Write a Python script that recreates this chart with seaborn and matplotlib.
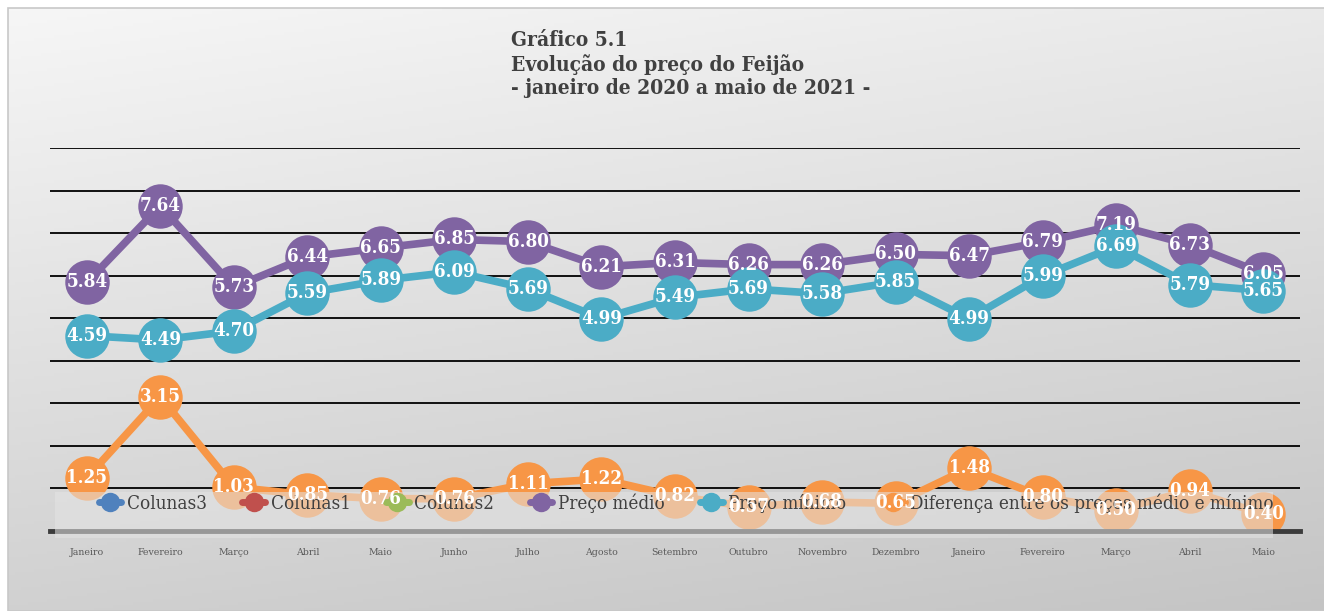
import numpy as np
import pandas as pd
import seaborn as sns
import matplotlib.pyplot as plt
from matplotlib.lines import Line2D
from matplotlib.patches import Rectangle

months = ["Janeiro", "Fevereiro", "Março", "Abril", "Maio", "Junho", "Julho", "Agosto",
          "Setembro", "Outubro", "Novembro", "Dezembro", "Janeiro", "Fevereiro", "Março",
          "Abril", "Maio"]
preco_medio = [5.84, 7.64, 5.73, 6.44, 6.65, 6.85, 6.80, 6.21, 6.31, 6.26, 6.26, 6.50,
               6.47, 6.79, 7.19, 6.73, 6.05]
preco_minimo = [4.59, 4.49, 4.70, 5.59, 5.89, 6.09, 5.69, 4.99, 5.49, 5.69, 5.58, 5.85,
                4.99, 5.99, 6.69, 5.79, 5.65]
diferenca = [1.25, 3.15, 1.03, 0.85, 0.76, 0.76, 1.11, 1.22, 0.82, 0.57, 0.68, 0.65,
             1.48, 0.80, 0.50, 0.94, 0.40]

series_names = ["Preço médio", "Preço mínimo", "Diferença entre os preços médio e mínimo"]
legend_names = ["Colunas3", "Colunas1", "Colunas2"] + series_names
colors = {"Colunas3": "#4F81BD", "Colunas1": "#C0504D", "Colunas2": "#9BBB59",
          "Preço médio": "#8064A2", "Preço mínimo": "#4BACC6",
          "Diferença entre os preços médio e mínimo": "#F79646"}

df = pd.DataFrame({"idx": np.arange(len(months)),
                   series_names[0]: preco_medio,
                   series_names[1]: preco_minimo,
                   series_names[2]: diferenca})
long = df.melt(id_vars="idx", var_name="serie", value_name="valor")

sns.set_theme(style="white")
plt.rcParams["font.family"] = ["DejaVu Serif", "DejaVu Sans"]
plt.rcParams["font.stretch"] = "condensed"

W, H = 1324, 611
fig = plt.figure(figsize=(W / 100, H / 100), dpi=100)

# background gradient panel
bg = fig.add_axes([0, 0, 1, 1], zorder=-5)
bg.set_xlim(0, 1)
bg.set_ylim(0, 1)
bg.axis("off")
yy, xx = np.mgrid[0:1:200j, 0:1:200j]
t = 0.75 * yy + 0.25 * xx
top = np.array([0.965, 0.965, 0.965])
bot = np.array([0.77, 0.77, 0.77])
img = top[None, None, :] * (1 - t[..., None]) + bot[None, None, :] * t[..., None]
bg.imshow(img, extent=[8 / W, 1, 0, 1 - 8 / H], aspect="auto", origin="upper")
bg.add_patch(Rectangle((8 / W, 0), 1, 1 - 8 / H, fill=False, edgecolor="#c8c8c8", lw=1.2))

left, right = 50 / W, 1300 / W
bottom, topp = (H - 531) / H, (H - 148) / H
ax = fig.add_axes([left, bottom, right - left, topp - bottom])
ax.set_facecolor("none")

sns.lineplot(data=long, x="idx", y="valor", hue="serie", hue_order=series_names,
             palette=colors, marker="o", markersize=32, linewidth=5.5,
             markeredgewidth=0, legend=False, sort=False, ax=ax)

for name, vals in zip(series_names, [preco_medio, preco_minimo, diferenca]):
    for i, v in enumerate(vals):
        ax.text(i, v, f"{v:.2f}", ha="center", va="center", color="white",
                fontsize=13.5, fontweight="bold", fontstretch="condensed", zorder=10)

ax.set_xlim(-0.5, len(months) - 0.5)
ax.set_ylim(0, 9)
ax.set_yticks(range(0, 10))
ax.set_yticklabels([])
ax.yaxis.grid(True, color="black", linewidth=1.3)
ax.xaxis.grid(False)
ax.set_axisbelow(True)
ax.set_xticks(range(len(months)))
ax.set_xticklabels(months, fontsize=7.5, color="#595959", fontstretch="condensed")
ax.tick_params(axis="both", length=0)
ax.tick_params(axis="x", pad=12)
ax.set_xlabel("")
ax.set_ylabel("")
for s in ["top", "left", "right"]:
    ax.spines[s].set_visible(False)
ax.spines["bottom"].set_color("#3c3c3c")
ax.spines["bottom"].set_linewidth(3.5)

# legend box (semi-transparent, over the lines)
ax.add_patch(Rectangle((5 / 1250, -7 / 383), (1273 - 55) / 1250, 46 / 383,
                       transform=ax.transAxes, facecolor="#e4e4e4", alpha=0.55,
                       edgecolor="none", zorder=6, clip_on=False))

handles = [Line2D([0], [0], color=colors[n], lw=5, marker="o", markersize=14,
                  markeredgewidth=0) for n in legend_names]
leg = ax.legend(handles, legend_names, loc="center", bbox_to_anchor=(0.509, 0.073),
                ncol=6, frameon=False, prop={"size": 13.5, "stretch": "condensed"},
                handlelength=1.2, handletextpad=0.3, columnspacing=1.9,
                labelcolor="#404040")
leg.set_zorder(7)

fig.text(511 / W, 1 - 64 / H,
         "Gráfico 5.1\nEvolução do preço do Feijão\n- janeiro de 2020 a maio de 2021 -",
         ha="left", va="center", fontsize=15, fontweight="bold", color="#404040",
         fontstretch="condensed", linespacing=1.2)

fig.savefig("out.png", dpi=100)
